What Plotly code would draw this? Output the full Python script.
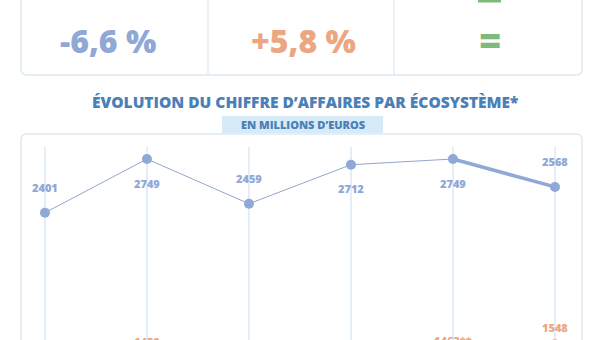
import plotly.graph_objects as go

# ---------------- data ----------------
positions = [0, 1, 2, 3, 4, 5]
blue_values = [2401, 2749, 2459, 2712, 2749, 2568]
orange_values = [1380, 1459, 1395, 1425, 1463, 1548]
orange_labels = ["1380", "1459", "1395", "1425", "1463**", "1548"]
blue_label_side = ["above", "below", "above", "below", "below", "above"]

kpi_texts = ["-6,6 %", "+5,8 %", "="]
title_text = "ÉVOLUTION DU CHIFFRE D’AFFAIRES PAR ÉCOSYSTÈME*"
subtitle_text = "EN MILLIONS D’EUROS"

# ---------------- style ----------------
W, H = 606, 400          # page shows the top 340 px
ML, MR, MT, MB = 21, 24, 147, 0
BLUE = "#8fa8d6"
BLUE_LINE = "#92a6cc"
ORANGE = "#eba782"
GREEN = "#7dbb7b"
TITLE_C = "#4a80b8"
BORDER = "#dde9f1"
GRID = "#e3eef6"
FONT = "Open Sans"

PW = W - ML - MR
PH = H - MT - MB
PX_PER_UNIT = 0.1543
Y_TOP = 2749 + (159 - MT) / PX_PER_UNIT
Y_BOT = Y_TOP - PH / PX_PER_UNIT


def px(x):
    return (x - ML) / PW


def py(y):
    return (H - MB - y) / PH


def rounded_rect(x0, y0, x1, y1, r):
    X0, X1 = px(x0), px(x1)
    Y0, Y1 = py(y0), py(y1)
    rx, ry = r / PW, r / PH
    return (f"M {X0+rx},{Y0} L {X1-rx},{Y0} Q {X1},{Y0} {X1},{Y0-ry} "
            f"L {X1},{Y1+ry} Q {X1},{Y1} {X1-rx},{Y1} L {X0+rx},{Y1} "
            f"Q {X0},{Y1} {X0},{Y1+ry} L {X0},{Y0-ry} Q {X0},{Y0} {X0+rx},{Y0} Z")


fig = go.Figure()

# orange series (mostly below the visible area)
fig.add_trace(go.Scatter(
    x=positions, y=orange_values, mode="lines+markers",
    line=dict(color=ORANGE, width=1),
    marker=dict(color=ORANGE, size=10),
    cliponaxis=False, hoverinfo="skip", showlegend=False))

# blue series
fig.add_trace(go.Scatter(
    x=positions, y=blue_values, mode="lines",
    line=dict(color=BLUE_LINE, width=1),
    hoverinfo="skip", showlegend=False))
fig.add_trace(go.Scatter(
    x=positions[4:], y=blue_values[4:], mode="lines",
    line=dict(color=BLUE, width=3.5),
    hoverinfo="skip", showlegend=False))
fig.add_trace(go.Scatter(
    x=positions, y=blue_values, mode="markers",
    marker=dict(color=BLUE, size=10),
    cliponaxis=False, hoverinfo="skip", showlegend=False))

annotations = []
for xv, yv, side in zip(positions, blue_values, blue_label_side):
    annotations.append(dict(
        x=xv, y=yv, xref="x", yref="y", text=str(yv), showarrow=False,
        yshift=25 if side == "above" else -24,
        font=dict(family=FONT, size=11, color=BLUE, weight=800)))
for xv, yv, lab in zip(positions, orange_values, orange_labels):
    annotations.append(dict(
        x=xv, y=yv, xref="x", yref="y", text=lab, showarrow=False,
        yshift=17, font=dict(family=FONT, size=11, color=ORANGE, weight=800)))

# KPI texts
for xc, t, c, s in zip([108, 303, 490], kpi_texts, [BLUE, ORANGE, GREEN], [32, 32, 38]):
    annotations.append(dict(
        x=px(xc), y=py(40), xref="paper", yref="paper", text=t,
        showarrow=False, xanchor="center", yanchor="middle",
        font=dict(family=FONT, size=s, color=c, weight=800)))

annotations.append(dict(
    x=px(305), y=py(102), xref="paper", yref="paper", text=title_text,
    showarrow=False, xanchor="center", yanchor="middle",
    font=dict(family=FONT, size=15.5, color=TITLE_C, weight=800)))
annotations.append(dict(
    x=px(303), y=py(124.5), xref="paper", yref="paper", text=subtitle_text,
    showarrow=False, xanchor="center", yanchor="middle",
    font=dict(family=FONT, size=11, color=TITLE_C, weight=800)))

shapes = [
    dict(type="path", xref="paper", yref="paper",
         path=rounded_rect(21, -20, 582, 75, 6),
         line=dict(color=BORDER, width=1.5), fillcolor="rgba(0,0,0,0)", layer="below"),
    dict(type="line", xref="paper", yref="paper", x0=px(208), x1=px(208), y0=py(0), y1=py(75),
         line=dict(color=BORDER, width=1.2)),
    dict(type="line", xref="paper", yref="paper", x0=px(394), x1=px(394), y0=py(0), y1=py(75),
         line=dict(color=BORDER, width=1.2)),
    dict(type="rect", xref="paper", yref="paper", x0=px(478), x1=px(501), y0=py(-3), y1=py(2.5),
         line=dict(width=0), fillcolor=GREEN),
    dict(type="path", xref="paper", yref="paper",
         path=rounded_rect(21, 134, 582, 420, 6),
         line=dict(color=BORDER, width=1.5), fillcolor="rgba(0,0,0,0)", layer="below"),
    dict(type="rect", xref="paper", yref="paper", x0=px(222), x1=px(383), y0=py(133), y1=py(116),
         line=dict(width=0), fillcolor="#d6eaf7", layer="below"),
]

fig.update_layout(
    width=W, height=H,
    margin=dict(l=ML, r=MR, t=MT, b=MB, pad=0),
    paper_bgcolor="white", plot_bgcolor="rgba(0,0,0,0)",
    annotations=annotations, shapes=shapes,
    xaxis=dict(range=[-0.235, 5.265], showgrid=True, gridcolor=GRID, gridwidth=1.5,
               tickvals=positions, showticklabels=False, zeroline=False, showline=False,
               fixedrange=True),
    yaxis=dict(range=[Y_BOT, Y_TOP], showgrid=False, showticklabels=False, zeroline=False,
               showline=False, fixedrange=True),
)

fig.write_html(
    "out.html",
    post_script="document.documentElement.style.overflow='hidden';"
                "document.body.style.overflow='hidden';document.body.style.margin='0';",
)
